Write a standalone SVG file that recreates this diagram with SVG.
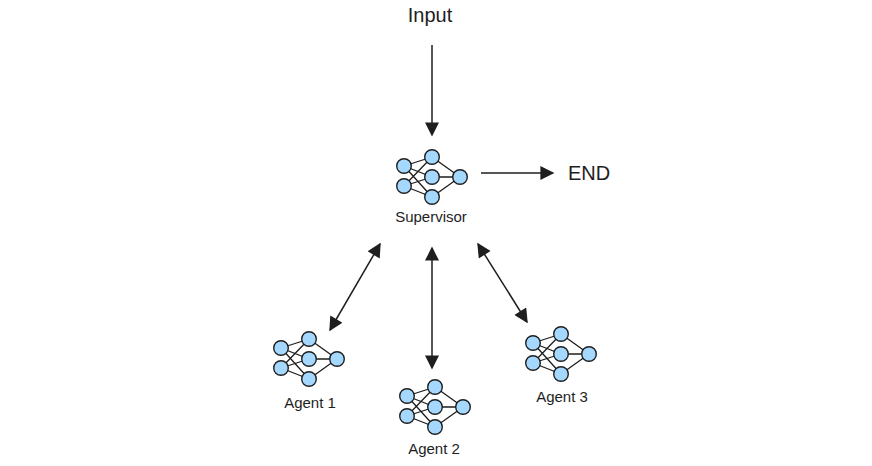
<svg xmlns="http://www.w3.org/2000/svg" width="872" height="466" viewBox="0 0 872 466">
<style>
.t{font-family:"Liberation Sans",sans-serif;fill:#1e1e1e}
.e{stroke:#1e1e1e;stroke-width:1.3;fill:none}
.n{fill:#a5d8ff;stroke:#1e1e1e;stroke-width:1.4}
.c{stroke:#1e1e1e;stroke-width:1.5;fill:none}
</style>
<defs>
<marker id="b" viewBox="0 0 10 10" refX="9" refY="5" markerWidth="16" markerHeight="14" markerUnits="userSpaceOnUse" orient="auto-start-reverse"><path d="M0,0L10,5L0,10z" fill="#1e1e1e"/></marker>
<g id="net">
<path class="e" d="M0,9L28,0M0,9L28,20M0,9L28,40M0,29L28,0M0,29L28,20M0,29L28,40M28,0L56,20M28,20L56,20M28,40L56,20"/>
<circle class="n" cx="0" cy="9" r="7.3"/><circle class="n" cx="0" cy="29" r="7.3"/>
<circle class="n" cx="28" cy="0" r="7.3"/><circle class="n" cx="28" cy="20" r="7.3"/><circle class="n" cx="28" cy="40" r="7.3"/>
<circle class="n" cx="56" cy="20" r="7.3"/>
</g>
</defs>
<g id="input"><text class="t" x="430" y="22" font-size="20" text-anchor="middle">Input</text></g>
<g id="end"><text class="t" x="589" y="180" font-size="20" text-anchor="middle">END</text></g>
<g id="supervisor"><use href="#net" x="404" y="157"/><text class="t" x="431" y="222" font-size="15" text-anchor="middle">Supervisor</text></g>
<g id="agent1"><use href="#net" x="281" y="339"/><text class="t" x="310" y="408" font-size="15" text-anchor="middle">Agent 1</text></g>
<g id="agent2"><use href="#net" x="407" y="387"/><text class="t" x="434" y="454" font-size="15" text-anchor="middle">Agent 2</text></g>
<g id="agent3"><use href="#net" x="533" y="334"/><text class="t" x="562" y="402" font-size="15" text-anchor="middle">Agent 3</text></g>
<g id="connectors">
<line class="c" x1="432" y1="45" x2="432" y2="135" marker-end="url(#b)"/>
<line class="c" x1="481" y1="173" x2="553" y2="173" marker-end="url(#b)"/>
<line class="c" x1="380" y1="244" x2="330" y2="330" marker-start="url(#b)" marker-end="url(#b)"/>
<line class="c" x1="432" y1="248" x2="432" y2="368" marker-start="url(#b)" marker-end="url(#b)"/>
<line class="c" x1="478" y1="244" x2="527" y2="322" marker-start="url(#b)" marker-end="url(#b)"/>
</g>
</svg>
